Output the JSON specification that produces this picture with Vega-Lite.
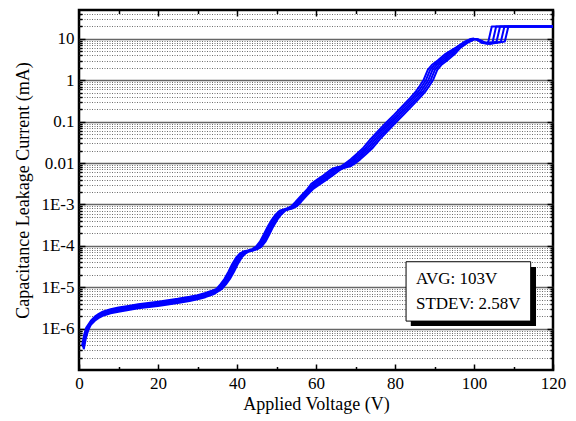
{
 "$schema": "https://vega.github.io/schema/vega-lite/v6.json",
 "width": 474, "height": 360,
 "autosize": "none",
 "padding": {"left": 79, "top": 10, "right": 23, "bottom": 51},
 "background": "white",
 "config": {
  "view": {"stroke": "black", "strokeWidth": 2.5},
  "axis": {"labelFont": "Liberation Serif", "titleFont": "Liberation Serif", "labelFontSize": 17, "titleFontSize": 18, "titleFontWeight": "normal", "labelColor": "black", "titleColor": "black", "tickColor": "black", "tickWidth": 1.5, "domain": false, "labelOverlap": false, "labelFlush": false}
 },
 "datasets": {
  "curves": [
   {"c":0,"v":0.8,"i":3.98e-7},{"c":0,"v":1.3,"i":7.06e-7},{"c":0,"v":1.8,"i":1.04e-6},{"c":0,"v":2.5,"i":1.31e-6},{"c":0,"v":3,"i":1.55e-6},{"c":0,"v":4,"i":1.95e-6},{"c":0,"v":5,"i":2.28e-6},{"c":0,"v":6,"i":2.56e-6},{"c":0,"v":8,"i":2.95e-6},{"c":0,"v":10,"i":3.23e-6},{"c":0,"v":12.5,"i":3.54e-6},{"c":0,"v":15,"i":3.89e-6},{"c":0,"v":20,"i":4.46e-6},{"c":0,"v":25,"i":5.24e-6},{"c":0,"v":28,"i":5.88e-6},{"c":0,"v":30,"i":6.44e-6},{"c":0,"v":32,"i":7.24e-6},{"c":0,"v":34,"i":8.5e-6},
   {"c":0,"v":34.8,"i":9.12e-6},{"c":0,"v":35.8,"i":1.17e-5},{"c":0,"v":36.8,"i":1.58e-5},{"c":0,"v":37.8,"i":2.34e-5},{"c":0,"v":38.8,"i":3.63e-5},{"c":0,"v":39.8,"i":5.25e-5},{"c":0,"v":40.8,"i":6.61e-5},{"c":0,"v":41.8,"i":7.41e-5},{"c":0,"v":42.8,"i":7.76e-5},{"c":0,"v":43.8,"i":8.32e-5},{"c":0,"v":44.8,"i":9.55e-5},{"c":0,"v":45.8,"i":1.26e-4},{"c":0,"v":46.8,"i":1.91e-4},{"c":0,"v":47.8,"i":2.95e-4},{"c":0,"v":48.8,"i":4.27e-4},{"c":0,"v":49.8,"i":5.75e-4},{"c":0,"v":50.8,"i":7.08e-4},{"c":0,"v":51.8,"i":7.59e-4},{"c":0,"v":52.8,"i":8.13e-4},{"c":0,"v":53.8,"i":9.12e-4},{"c":0,"v":54.8,"i":1.15e-3},{"c":0,"v":56.3,"i":1.66e-3},{"c":0,"v":57.8,"i":2.34e-3},
   {"c":0,"v":58.8,"i":3.16e-3},{"c":0,"v":60.3,"i":3.98e-3},{"c":0,"v":61.8,"i":5.01e-3},{"c":0,"v":63.3,"i":6.46e-3},{"c":0,"v":64.3,"i":7.41e-3},{"c":0,"v":65.3,"i":7.94e-3},{"c":0,"v":66.3,"i":8.32e-3},{"c":0,"v":67.3,"i":9.55e-3},{"c":0,"v":68.8,"i":1.23e-2},{"c":0,"v":70.3,"i":1.66e-2},{"c":0,"v":71.8,"i":2.24e-2},{"c":0,"v":73.8,"i":3.8e-2},{"c":0,"v":75.8,"i":6.03e-2},{"c":0,"v":77.8,"i":9.55e-2},{"c":0,"v":79.8,"i":0.148},{"c":0,"v":81.8,"i":0.234},{"c":0,"v":83.8,"i":0.372},{"c":0,"v":85.3,"i":0.537},{"c":0,"v":86.3,"i":0.741},{"c":0,"v":87.3,"i":1.05},{"c":0,"v":88.3,"i":1.78},{"c":0,"v":89.3,"i":2.34},{"c":0,"v":90.8,"i":3.02},{"c":0,"v":92.8,"i":4.37},
   {"c":0,"v":95.4,"i":6.17},{"c":0,"v":97.4,"i":8.32},{"c":0,"v":98.9,"i":9.77},{"c":0,"v":99.9,"i":10.2},{"c":0,"v":101.0,"i":9.33},{"c":0,"v":101.9,"i":8.13},{"c":0,"v":102.5,"i":7.94},{"c":0,"v":103.6,"i":8.32},{"c":0,"v":104.5,"i":20},{"c":0,"v":120,"i":20},

   {"c":1,"v":0.9,"i":3.76e-7},{"c":1,"v":1.4,"i":6.68e-7},{"c":1,"v":1.9,"i":9.86e-7},{"c":1,"v":2.5,"i":1.24e-6},{"c":1,"v":3,"i":1.46e-6},{"c":1,"v":4,"i":1.84e-6},{"c":1,"v":5,"i":2.16e-6},{"c":1,"v":6,"i":2.43e-6},{"c":1,"v":8,"i":2.79e-6},{"c":1,"v":10,"i":3.05e-6},{"c":1,"v":12.5,"i":3.35e-6},{"c":1,"v":15,"i":3.68e-6},{"c":1,"v":20,"i":4.22e-6},{"c":1,"v":25,"i":4.96e-6},{"c":1,"v":28,"i":5.57e-6},{"c":1,"v":30,"i":6.1e-6},{"c":1,"v":32,"i":6.85e-6},{"c":1,"v":34,"i":8.05e-6},
   {"c":1,"v":35.15,"i":9.12e-6},{"c":1,"v":36.15,"i":1.17e-5},{"c":1,"v":37.15,"i":1.58e-5},{"c":1,"v":38.15,"i":2.34e-5},{"c":1,"v":39.15,"i":3.63e-5},{"c":1,"v":40.15,"i":5.25e-5},{"c":1,"v":41.15,"i":6.61e-5},{"c":1,"v":42.15,"i":7.41e-5},{"c":1,"v":43.15,"i":7.76e-5},{"c":1,"v":44.15,"i":8.32e-5},{"c":1,"v":45.15,"i":9.55e-5},{"c":1,"v":46.15,"i":1.26e-4},{"c":1,"v":47.15,"i":1.91e-4},{"c":1,"v":48.15,"i":2.95e-4},{"c":1,"v":49.15,"i":4.27e-4},{"c":1,"v":50.15,"i":5.75e-4},{"c":1,"v":51.15,"i":7.08e-4},{"c":1,"v":52.15,"i":7.59e-4},{"c":1,"v":53.15,"i":8.13e-4},{"c":1,"v":54.15,"i":9.12e-4},{"c":1,"v":55.15,"i":1.15e-3},{"c":1,"v":56.65,"i":1.66e-3},{"c":1,"v":58.15,"i":2.34e-3},
   {"c":1,"v":59.4,"i":3.16e-3},{"c":1,"v":60.9,"i":3.98e-3},{"c":1,"v":62.4,"i":5.01e-3},{"c":1,"v":63.9,"i":6.46e-3},{"c":1,"v":64.9,"i":7.41e-3},{"c":1,"v":65.9,"i":7.94e-3},{"c":1,"v":66.9,"i":8.32e-3},{"c":1,"v":67.9,"i":9.55e-3},{"c":1,"v":69.4,"i":1.23e-2},{"c":1,"v":70.9,"i":1.66e-2},{"c":1,"v":72.4,"i":2.24e-2},{"c":1,"v":74.4,"i":3.8e-2},{"c":1,"v":76.4,"i":6.03e-2},{"c":1,"v":78.4,"i":9.55e-2},{"c":1,"v":80.4,"i":0.148},{"c":1,"v":82.4,"i":0.234},{"c":1,"v":84.4,"i":0.372},{"c":1,"v":85.9,"i":0.537},{"c":1,"v":86.9,"i":0.741},{"c":1,"v":87.9,"i":1.05},{"c":1,"v":88.9,"i":1.78},{"c":1,"v":89.9,"i":2.34},{"c":1,"v":91.4,"i":3.02},{"c":1,"v":93.4,"i":4.37},
   {"c":1,"v":95.7,"i":6.17},{"c":1,"v":97.7,"i":8.32},{"c":1,"v":99.2,"i":9.77},{"c":1,"v":100.2,"i":10.0},{"c":1,"v":101.3,"i":9.12},{"c":1,"v":102.2,"i":7.94},{"c":1,"v":103.0,"i":7.76},{"c":1,"v":104.7,"i":8.32},{"c":1,"v":105.6,"i":20},{"c":1,"v":120,"i":20},

   {"c":2,"v":1.0,"i":3.55e-7},{"c":2,"v":1.5,"i":6.3e-7},{"c":2,"v":2.0,"i":9.3e-7},{"c":2,"v":2.5,"i":1.17e-6},{"c":2,"v":3,"i":1.38e-6},{"c":2,"v":4,"i":1.74e-6},{"c":2,"v":5,"i":2.04e-6},{"c":2,"v":6,"i":2.29e-6},{"c":2,"v":8,"i":2.63e-6},{"c":2,"v":10,"i":2.88e-6},{"c":2,"v":12.5,"i":3.16e-6},{"c":2,"v":15,"i":3.47e-6},{"c":2,"v":20,"i":3.98e-6},{"c":2,"v":25,"i":4.68e-6},{"c":2,"v":28,"i":5.25e-6},{"c":2,"v":30,"i":5.75e-6},{"c":2,"v":32,"i":6.46e-6},{"c":2,"v":34,"i":7.59e-6},
   {"c":2,"v":35.5,"i":9.12e-6},{"c":2,"v":36.5,"i":1.17e-5},{"c":2,"v":37.5,"i":1.58e-5},{"c":2,"v":38.5,"i":2.34e-5},{"c":2,"v":39.5,"i":3.63e-5},{"c":2,"v":40.5,"i":5.25e-5},{"c":2,"v":41.5,"i":6.61e-5},{"c":2,"v":42.5,"i":7.41e-5},{"c":2,"v":43.5,"i":7.76e-5},{"c":2,"v":44.5,"i":8.32e-5},{"c":2,"v":45.5,"i":9.55e-5},{"c":2,"v":46.5,"i":1.26e-4},{"c":2,"v":47.5,"i":1.91e-4},{"c":2,"v":48.5,"i":2.95e-4},{"c":2,"v":49.5,"i":4.27e-4},{"c":2,"v":50.5,"i":5.75e-4},{"c":2,"v":51.5,"i":7.08e-4},{"c":2,"v":52.5,"i":7.59e-4},{"c":2,"v":53.5,"i":8.13e-4},{"c":2,"v":54.5,"i":9.12e-4},{"c":2,"v":55.5,"i":1.15e-3},{"c":2,"v":57,"i":1.66e-3},{"c":2,"v":58.5,"i":2.34e-3},
   {"c":2,"v":60,"i":3.16e-3},{"c":2,"v":61.5,"i":3.98e-3},{"c":2,"v":63,"i":5.01e-3},{"c":2,"v":64.5,"i":6.46e-3},{"c":2,"v":65.5,"i":7.41e-3},{"c":2,"v":66.5,"i":7.94e-3},{"c":2,"v":67.5,"i":8.32e-3},{"c":2,"v":68.5,"i":9.55e-3},{"c":2,"v":70,"i":1.23e-2},{"c":2,"v":71.5,"i":1.66e-2},{"c":2,"v":73,"i":2.24e-2},{"c":2,"v":75,"i":3.8e-2},{"c":2,"v":77,"i":6.03e-2},{"c":2,"v":79,"i":9.55e-2},{"c":2,"v":81,"i":0.148},{"c":2,"v":83,"i":0.234},{"c":2,"v":85,"i":0.372},{"c":2,"v":86.5,"i":0.537},{"c":2,"v":87.5,"i":0.741},{"c":2,"v":88.5,"i":1.05},{"c":2,"v":89.5,"i":1.78},{"c":2,"v":90.5,"i":2.34},{"c":2,"v":92,"i":3.02},{"c":2,"v":94,"i":4.37},
   {"c":2,"v":96,"i":6.17},{"c":2,"v":98,"i":8.32},{"c":2,"v":99.5,"i":9.77},{"c":2,"v":100.5,"i":10.0},{"c":2,"v":101.6,"i":9.12},{"c":2,"v":102.5,"i":8.13},{"c":2,"v":103.4,"i":7.76},{"c":2,"v":105.7,"i":8.51},{"c":2,"v":106.6,"i":20},{"c":2,"v":120,"i":20},

   {"c":3,"v":1.1,"i":3.34e-7},{"c":3,"v":1.6,"i":5.92e-7},{"c":3,"v":2.1,"i":8.74e-7},{"c":3,"v":2.5,"i":1.1e-6},{"c":3,"v":3,"i":1.3e-6},{"c":3,"v":4,"i":1.64e-6},{"c":3,"v":5,"i":1.92e-6},{"c":3,"v":6,"i":2.15e-6},{"c":3,"v":8,"i":2.47e-6},{"c":3,"v":10,"i":2.71e-6},{"c":3,"v":12.5,"i":2.97e-6},{"c":3,"v":15,"i":3.26e-6},{"c":3,"v":20,"i":3.74e-6},{"c":3,"v":25,"i":4.4e-6},{"c":3,"v":28,"i":4.94e-6},{"c":3,"v":30,"i":5.41e-6},{"c":3,"v":32,"i":6.07e-6},{"c":3,"v":34,"i":7.13e-6},
   {"c":3,"v":35.85,"i":9.12e-6},{"c":3,"v":36.85,"i":1.17e-5},{"c":3,"v":37.85,"i":1.58e-5},{"c":3,"v":38.85,"i":2.34e-5},{"c":3,"v":39.85,"i":3.63e-5},{"c":3,"v":40.85,"i":5.25e-5},{"c":3,"v":41.85,"i":6.61e-5},{"c":3,"v":42.85,"i":7.41e-5},{"c":3,"v":43.85,"i":7.76e-5},{"c":3,"v":44.85,"i":8.32e-5},{"c":3,"v":45.85,"i":9.55e-5},{"c":3,"v":46.85,"i":1.26e-4},{"c":3,"v":47.85,"i":1.91e-4},{"c":3,"v":48.85,"i":2.95e-4},{"c":3,"v":49.85,"i":4.27e-4},{"c":3,"v":50.85,"i":5.75e-4},{"c":3,"v":51.85,"i":7.08e-4},{"c":3,"v":52.85,"i":7.59e-4},{"c":3,"v":53.85,"i":8.13e-4},{"c":3,"v":54.85,"i":9.12e-4},{"c":3,"v":55.85,"i":1.15e-3},{"c":3,"v":57.35,"i":1.66e-3},{"c":3,"v":58.85,"i":2.34e-3},
   {"c":3,"v":60.6,"i":3.16e-3},{"c":3,"v":62.1,"i":3.98e-3},{"c":3,"v":63.6,"i":5.01e-3},{"c":3,"v":65.1,"i":6.46e-3},{"c":3,"v":66.1,"i":7.41e-3},{"c":3,"v":67.1,"i":7.94e-3},{"c":3,"v":68.1,"i":8.32e-3},{"c":3,"v":69.1,"i":9.55e-3},{"c":3,"v":70.6,"i":1.23e-2},{"c":3,"v":72.1,"i":1.66e-2},{"c":3,"v":73.6,"i":2.24e-2},{"c":3,"v":75.6,"i":3.8e-2},{"c":3,"v":77.6,"i":6.03e-2},{"c":3,"v":79.6,"i":9.55e-2},{"c":3,"v":81.6,"i":0.148},{"c":3,"v":83.6,"i":0.234},{"c":3,"v":85.6,"i":0.372},{"c":3,"v":87.1,"i":0.537},{"c":3,"v":88.1,"i":0.741},{"c":3,"v":89.1,"i":1.05},{"c":3,"v":90.1,"i":1.78},{"c":3,"v":91.1,"i":2.34},{"c":3,"v":92.6,"i":3.02},{"c":3,"v":94.6,"i":4.37},
   {"c":3,"v":96.3,"i":6.17},{"c":3,"v":98.3,"i":8.32},{"c":3,"v":99.8,"i":9.77},{"c":3,"v":100.8,"i":9.77},{"c":3,"v":101.9,"i":8.91},{"c":3,"v":102.8,"i":7.94},{"c":3,"v":103.8,"i":7.59},{"c":3,"v":106.8,"i":8.51},{"c":3,"v":107.7,"i":20},{"c":3,"v":120,"i":20},

   {"c":4,"v":1.2,"i":3.16e-7},{"c":4,"v":1.7,"i":5.61e-7},{"c":4,"v":2.2,"i":8.28e-7},{"c":4,"v":2.6,"i":1.04e-6},{"c":4,"v":3,"i":1.23e-6},{"c":4,"v":4,"i":1.55e-6},{"c":4,"v":5,"i":1.82e-6},{"c":4,"v":6,"i":2.04e-6},{"c":4,"v":8,"i":2.34e-6},{"c":4,"v":10,"i":2.56e-6},{"c":4,"v":12.5,"i":2.81e-6},{"c":4,"v":15,"i":3.09e-6},{"c":4,"v":20,"i":3.54e-6},{"c":4,"v":25,"i":4.17e-6},{"c":4,"v":28,"i":4.67e-6},{"c":4,"v":30,"i":5.12e-6},{"c":4,"v":32,"i":5.75e-6},{"c":4,"v":34,"i":6.75e-6},
   {"c":4,"v":36.2,"i":9.12e-6},{"c":4,"v":37.2,"i":1.17e-5},{"c":4,"v":38.2,"i":1.58e-5},{"c":4,"v":39.2,"i":2.34e-5},{"c":4,"v":40.2,"i":3.63e-5},{"c":4,"v":41.2,"i":5.25e-5},{"c":4,"v":42.2,"i":6.61e-5},{"c":4,"v":43.2,"i":7.41e-5},{"c":4,"v":44.2,"i":7.76e-5},{"c":4,"v":45.2,"i":8.32e-5},{"c":4,"v":46.2,"i":9.55e-5},{"c":4,"v":47.2,"i":1.26e-4},{"c":4,"v":48.2,"i":1.91e-4},{"c":4,"v":49.2,"i":2.95e-4},{"c":4,"v":50.2,"i":4.27e-4},{"c":4,"v":51.2,"i":5.75e-4},{"c":4,"v":52.2,"i":7.08e-4},{"c":4,"v":53.2,"i":7.59e-4},{"c":4,"v":54.2,"i":8.13e-4},{"c":4,"v":55.2,"i":9.12e-4},{"c":4,"v":56.2,"i":1.15e-3},{"c":4,"v":57.7,"i":1.66e-3},{"c":4,"v":59.2,"i":2.34e-3},
   {"c":4,"v":61.2,"i":3.16e-3},{"c":4,"v":62.7,"i":3.98e-3},{"c":4,"v":64.2,"i":5.01e-3},{"c":4,"v":65.7,"i":6.46e-3},{"c":4,"v":66.7,"i":7.41e-3},{"c":4,"v":67.7,"i":7.94e-3},{"c":4,"v":68.7,"i":8.32e-3},{"c":4,"v":69.7,"i":9.55e-3},{"c":4,"v":71.2,"i":1.23e-2},{"c":4,"v":72.7,"i":1.66e-2},{"c":4,"v":74.2,"i":2.24e-2},{"c":4,"v":76.2,"i":3.8e-2},{"c":4,"v":78.2,"i":6.03e-2},{"c":4,"v":80.2,"i":9.55e-2},{"c":4,"v":82.2,"i":0.148},{"c":4,"v":84.2,"i":0.234},{"c":4,"v":86.2,"i":0.372},{"c":4,"v":87.7,"i":0.537},{"c":4,"v":88.7,"i":0.741},{"c":4,"v":89.7,"i":1.05},{"c":4,"v":90.7,"i":1.78},{"c":4,"v":91.7,"i":2.34},{"c":4,"v":93.2,"i":3.02},{"c":4,"v":95.2,"i":4.37},
   {"c":4,"v":96.6,"i":6.17},{"c":4,"v":98.6,"i":8.32},{"c":4,"v":100.1,"i":9.77},{"c":4,"v":101.1,"i":9.77},{"c":4,"v":102.2,"i":8.71},{"c":4,"v":103.1,"i":7.94},{"c":4,"v":104.2,"i":7.59},{"c":4,"v":107.8,"i":8.71},{"c":4,"v":108.7,"i":20},{"c":4,"v":120,"i":20}
  ],
  "shadow": [{"x1": 84.0, "x2": 115.7, "y1": 3.08e-5, "y2": 1.15e-6}],
  "box": [{"x1": 82.8, "x2": 114.35, "y1": 4.13e-5, "y2": 1.52e-6}],
  "labels": [{"x": 85.3, "y": 1.55e-5, "t": "AVG: 103V"}, {"x": 85.3, "y": 3.93e-6, "t": "STDEV: 2.58V"}]
 },
 "resolve": {"axis": {"x": "independent", "y": "independent"}},
 "layer": [
  {
   "data": {"name": "curves"},
   "mark": {"type": "line", "color": "#0000ff", "strokeWidth": 2, "strokeJoin": "round"},
   "encoding": {
    "x": {"field": "v", "type": "quantitative", "scale": {"domain": [0, 120], "nice": false, "zero": false},
          "axis": {"orient": "bottom", "values": [0, 20, 40, 60, 80, 100, 120], "tickSize": -6, "labelPadding": 11, "title": "Applied Voltage (V)", "titlePadding": 4, "grid": false}},
    "y": {"field": "i", "type": "quantitative", "scale": {"type": "log", "domain": [1e-7, 50], "nice": false},
          "axis": {"orient": "left", "values": [1e-6, 1e-5, 1e-4, 0.001, 0.01, 0.1, 1, 10], "tickSize": -6, "labelPadding": 11,
                   "labelExpr": "datum.value >= 0.01 ? toString(datum.value) : '1E' + round(log(datum.value)/LN10)",
                   "title": "Capacitance Leakage Current (mA)", "titlePadding": 8, "grid": true, "gridColor": "#666", "gridWidth": 1.5}},
    "detail": {"field": "c", "type": "nominal"}
   }
  },
  {
   "data": {"name": "shadow"},
   "mark": {"type": "rect", "color": "black"},
   "encoding": {
    "x": {"field": "x1", "type": "quantitative", "scale": {"domain": [0, 120], "nice": false, "zero": false},
          "axis": {"orient": "bottom", "values": [10, 30, 50, 70, 90, 110], "tickSize": -3.5, "labels": false, "title": null, "grid": false}},
    "x2": {"field": "x2"},
    "y": {"field": "y1", "type": "quantitative", "scale": {"type": "log", "domain": [1e-7, 50], "nice": false},
          "axis": {"orient": "left", "values": [2e-7,3e-7,4e-7,5e-7,6e-7,7e-7,8e-7,9e-7,2e-6,3e-6,4e-6,5e-6,6e-6,7e-6,8e-6,9e-6,2e-5,3e-5,4e-5,5e-5,6e-5,7e-5,8e-5,9e-5,2e-4,3e-4,4e-4,5e-4,6e-4,7e-4,8e-4,9e-4,0.002,0.003,0.004,0.005,0.006,0.007,0.008,0.009,0.02,0.03,0.04,0.05,0.06,0.07,0.08,0.09,0.2,0.3,0.4,0.5,0.6,0.7,0.8,0.9,2,3,4,5,6,7,8,9,20,30,40],
                   "tickSize": -3, "labels": false, "title": null, "grid": true, "gridDash": [1, 1.5], "gridColor": "#6e6e6e", "gridWidth": 1}},
    "y2": {"field": "y2"}
   }
  },
  {
   "data": {"name": "box"},
   "mark": {"type": "rect", "fill": "white", "stroke": "black", "strokeWidth": 1},
   "encoding": {
    "x": {"field": "x1", "type": "quantitative", "scale": {"domain": [0, 120], "nice": false, "zero": false},
          "axis": {"orient": "top", "values": [0, 20, 40, 60, 80, 100, 120], "tickSize": -6, "labels": false, "title": null, "grid": false}},
    "x2": {"field": "x2"},
    "y": {"field": "y1", "type": "quantitative", "scale": {"type": "log", "domain": [1e-7, 50], "nice": false},
          "axis": {"orient": "right", "values": [1e-6, 1e-5, 1e-4, 0.001, 0.01, 0.1, 1, 10], "tickSize": -6, "labels": false, "title": null, "grid": false}},
    "y2": {"field": "y2"}
   }
  },
  {
   "data": {"name": "labels"},
   "mark": {"type": "text", "align": "left", "baseline": "middle", "font": "Liberation Serif", "fontSize": 17, "color": "black"},
   "encoding": {
    "x": {"field": "x", "type": "quantitative", "scale": {"domain": [0, 120], "nice": false, "zero": false},
          "axis": {"orient": "top", "values": [10, 30, 50, 70, 90, 110], "tickSize": -3.5, "labels": false, "title": null, "grid": false}},
    "y": {"field": "y", "type": "quantitative", "scale": {"type": "log", "domain": [1e-7, 50], "nice": false},
          "axis": {"orient": "right", "values": [2e-7,3e-7,4e-7,5e-7,6e-7,7e-7,8e-7,9e-7,2e-6,3e-6,4e-6,5e-6,6e-6,7e-6,8e-6,9e-6,2e-5,3e-5,4e-5,5e-5,6e-5,7e-5,8e-5,9e-5,2e-4,3e-4,4e-4,5e-4,6e-4,7e-4,8e-4,9e-4,0.002,0.003,0.004,0.005,0.006,0.007,0.008,0.009,0.02,0.03,0.04,0.05,0.06,0.07,0.08,0.09,0.2,0.3,0.4,0.5,0.6,0.7,0.8,0.9,2,3,4,5,6,7,8,9,20,30,40],
                   "tickSize": -3, "labels": false, "title": null, "grid": false}},
    "text": {"field": "t", "type": "nominal"}
   }
  }
 ]
}
